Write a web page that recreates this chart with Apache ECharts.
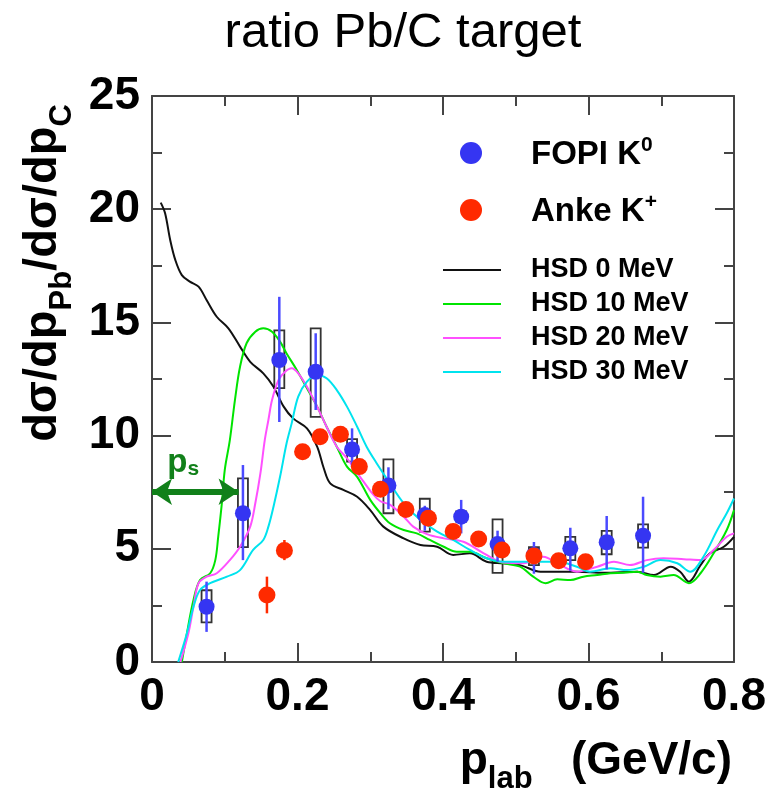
<!DOCTYPE html>
<html><head><meta charset="utf-8">
<script src="https://cdn.jsdelivr.net/npm/echarts@6/dist/echarts.min.js"></script>
<style>html,body{margin:0;padding:0;background:#fff}#c{width:769px;height:796px}</style>
</head><body><div id="c"></div>
<script>
// ---- data ----
const fopiX     = [0.075, 0.125, 0.175, 0.225, 0.275, 0.325, 0.375, 0.425, 0.475, 0.525, 0.575, 0.625, 0.675];
const fopiY     = [2.44, 6.57, 13.34, 12.82, 9.39, 7.80, 6.49, 6.42, 5.21, 4.73, 5.02, 5.29, 5.58];
const fopiErrLo = [1.33, 4.50, 10.60, 11.13, 8.63, 6.75, 5.80, 5.68, 4.43, 3.90, 4.03, 4.09, 3.94];
const fopiErrHi = [3.55, 8.70, 16.13, 14.52, 10.32, 8.60, 6.90, 7.16, 5.80, 5.30, 5.93, 6.45, 7.30];
const fopiBoxLo = [1.75, 5.07, 12.10, 10.83, 8.85, 6.57, 5.76, 6.20, 3.94, 4.28, 4.50, 4.76, 5.05];
const fopiBoxHi = [3.17, 8.11, 14.65, 14.74, 9.84, 8.95, 7.21, 6.65, 6.30, 5.07, 5.53, 5.79, 6.08];

const ankeX     = [0.158, 0.182, 0.207, 0.231, 0.259, 0.285, 0.314, 0.349, 0.380, 0.414, 0.449, 0.481, 0.525, 0.559, 0.596];
const ankeY     = [2.96, 4.92, 9.29, 9.95, 10.06, 8.63, 7.63, 6.74, 6.35, 5.76, 5.43, 4.95, 4.68, 4.47, 4.43];
const ankeErrLo = [2.15, 4.50, null, null, null, null, null, null, null, null, null, null, null, null, null];
const ankeErrHi = [3.77, 5.39, null, null, null, null, null, null, null, null, null, null, null, null, null];

const hsd0X = [0.012,0.018,0.025,0.032,0.041,0.052,0.064,0.075,0.089,0.105,0.121,0.135,0.153,0.167,0.181,0.194,0.213,0.227,0.236,0.245,0.263,0.282,0.300,0.318,0.346,0.369,0.392,0.414,0.437,0.460,0.483,0.506,0.534,0.557,0.584,0.621,0.667,0.690,0.713,0.726,0.738,0.754,0.767,0.786,0.800];
const hsd0Y = [20.29,19.82,18.64,17.76,17.09,16.80,16.58,15.99,15.25,14.74,13.93,13.26,12.75,12.16,11.28,10.76,10.32,9.51,8.57,7.89,7.60,7.30,6.71,5.98,5.46,5.17,5.09,4.73,4.80,4.43,4.36,4.28,3.99,3.99,3.99,3.94,3.99,3.84,4.21,3.99,3.55,4.28,4.80,5.09,5.53];

const hsd10X = [0.041,0.048,0.057,0.066,0.080,0.087,0.091,0.096,0.100,0.107,0.114,0.121,0.130,0.142,0.153,0.165,0.176,0.185,0.199,0.213,0.227,0.240,0.254,0.268,0.282,0.300,0.314,0.327,0.346,0.364,0.382,0.401,0.419,0.437,0.460,0.483,0.506,0.524,0.541,0.557,0.575,0.593,0.612,0.630,0.648,0.667,0.680,0.699,0.717,0.738,0.754,0.772,0.790,0.800];
const hsd10Y = [0.00,1.27,2.74,3.62,3.92,4.50,5.53,7.01,8.48,9.80,11.57,13.04,14.08,14.59,14.74,14.59,14.15,13.63,12.90,12.09,11.28,10.39,9.51,8.63,8.18,7.16,6.57,6.13,5.83,5.68,5.39,5.09,4.87,4.87,4.58,4.36,4.21,3.77,3.48,3.65,3.62,3.77,3.84,3.92,3.94,3.99,3.84,3.77,3.84,3.48,3.92,4.80,5.83,6.71];

const hsd20X = [0.039,0.050,0.057,0.064,0.075,0.089,0.107,0.121,0.135,0.142,0.149,0.155,0.160,0.165,0.174,0.183,0.192,0.201,0.213,0.227,0.240,0.254,0.268,0.286,0.304,0.314,0.327,0.346,0.359,0.378,0.401,0.428,0.456,0.483,0.511,0.538,0.557,0.584,0.612,0.635,0.657,0.680,0.703,0.731,0.754,0.772,0.790,0.800];
const hsd20Y = [0.00,1.27,2.44,3.48,3.77,3.92,4.50,5.09,5.98,7.01,8.33,9.80,10.69,11.57,12.46,12.82,12.97,12.75,12.16,11.28,10.39,9.51,9.00,8.18,7.40,7.10,6.95,6.42,5.98,5.65,5.46,5.31,4.80,4.39,4.36,4.65,4.36,3.99,4.21,4.43,4.28,4.50,4.58,4.54,4.50,4.95,5.53,5.68];

const hsd30X = [0.036,0.048,0.057,0.066,0.080,0.103,0.121,0.139,0.153,0.160,0.167,0.176,0.185,0.192,0.201,0.213,0.227,0.240,0.254,0.268,0.282,0.295,0.309,0.327,0.346,0.369,0.392,0.414,0.437,0.460,0.483,0.529,0.557,0.584,0.602,0.630,0.653,0.676,0.699,0.722,0.740,0.758,0.777,0.790,0.800];
const hsd30Y = [0.00,1.27,2.44,3.18,3.48,3.77,4.06,4.95,5.39,5.98,6.86,8.18,9.66,10.54,11.72,12.38,12.68,12.53,12.01,11.28,10.39,9.51,8.77,7.89,7.01,6.27,5.76,5.39,4.95,4.58,4.43,4.43,4.43,4.21,3.99,4.14,4.06,4.21,4.50,4.36,3.99,4.65,5.83,6.57,7.22];

const psArrow = {x0: 0, x1: 0.119, y: 7.52};
const xTickStep = 0.2, yTickStep = 5;

// ---- build ----
const zip = (xs, ys) => xs.map((x, i) => [x, ys[i]]);
const AX = '#444';
const FONT = '"Liberation Sans", Arial, Helvetica, sans-serif';
const LBL = 46;

function axisCommon(show, margin) {
  return {
    axisLine: {show: true, onZero: false, lineStyle: {color: AX, width: 2}},
    axisTick: {show: true, inside: true, length: 19, lineStyle: {color: AX, width: 2}},
    minorTick: {show: true, splitNumber: 2, length: 10, lineStyle: {color: AX, width: 2}},
    splitLine: {show: false},
    axisLabel: {show: show, fontSize: LBL, fontWeight: 'bold', color: '#000', fontFamily: FONT, margin: margin || 8}
  };
}

const boxSeries = {
  type: 'custom', name: 'boxes', z: 3, silent: true,
  data: fopiX.map((x, i) => [x, fopiBoxLo[i], fopiBoxHi[i]]),
  renderItem(params, api) {
    const x = api.value(0);
    const pHi = api.coord([x, api.value(2)]);
    const pLo = api.coord([x, api.value(1)]);
    return {type: 'rect', shape: {x: pHi[0] - 5, y: pHi[1], width: 10, height: pLo[1] - pHi[1]},
      style: {fill: 'none', stroke: '#333', lineWidth: 1.8}};
  }
};
function errSeries(xs, lo, hi, color, z) {
  return {
    type: 'custom', silent: true, z: z,
    data: xs.map((x, i) => [x, lo[i], hi[i]]).filter(d => d[1] != null),
    renderItem(params, api) {
      const x = api.value(0);
      const a = api.coord([x, api.value(1)]);
      const b = api.coord([x, api.value(2)]);
      return {type: 'line', shape: {x1: a[0], y1: a[1], x2: b[0], y2: b[1]},
        style: {stroke: color, lineWidth: 2.5}};
    }
  };
}
function curve(name, xs, ys, color) {
  return {type: 'line', name: name, data: zip(xs, ys), smooth: 0.35, symbol: 'none', z: 4,
    lineStyle: {color: color, width: 2}, itemStyle: {color: color}};
}

const GREEN = '#11801a';
const c0 = curve('HSD 0 MeV', hsd0X, hsd0Y, '#111111');
c0.markLine = {
  silent: true, symbol: ['arrow', 'arrow'], symbolSize: [20, 20],
  lineStyle: {color: GREEN, width: 6, type: 'solid'},
  label: {show: true, position: 'insideMiddleTop', distance: 12, offset: [-12, 0],
    formatter: '{p|p}{s|s}',
    rich: {p: {fontSize: 33, fontWeight: 'bold', color: GREEN, fontFamily: FONT, lineHeight: 36, verticalAlign: 'bottom'},
           s: {fontSize: 21, fontWeight: 'bold', color: GREEN, fontFamily: FONT, lineHeight: 16, verticalAlign: 'bottom'}}},
  data: [[{coord: [psArrow.x0, psArrow.y]}, {coord: [psArrow.x1, psArrow.y]}]]
};

const option = {
  backgroundColor: '#fff',
  animation: false,
  title: {text: 'ratio Pb/C target', left: 398, top: 4, textAlign: 'center',
    textStyle: {fontSize: 49, fontWeight: 'normal', color: '#000', fontFamily: FONT}},
  grid: {left: 152, right: 35, top: 96, bottom: 134},
  xAxis: [
    Object.assign({type: 'value', min: 0, max: 0.8, interval: xTickStep, position: 'bottom',
      name: '{a|p}{b|lab}{a|   (GeV/c)}', nameLocation: 'end', nameGap: -2,
      nameTextStyle: {align: 'right', verticalAlign: 'top', padding: [72, 0, 0, 0],
        rich: {a: {fontSize: LBL, fontWeight: 'bold', color: '#000', fontFamily: FONT, lineHeight: 50, verticalAlign: 'bottom'},
               b: {fontSize: 31, fontWeight: 'bold', color: '#000', fontFamily: FONT, lineHeight: 30, verticalAlign: 'bottom', padding: [0, 0, -11, 0]}}}
    }, axisCommon(true, 12)),
    Object.assign({type: 'value', min: 0, max: 0.8, interval: xTickStep, position: 'top'}, axisCommon(false))
  ],
  yAxis: [
    Object.assign({type: 'value', min: 0, max: 25, interval: yTickStep, position: 'left',
      name: '{a|dσ/dp}{b|Pb}{a|/dσ/dp}{b|C}', nameLocation: 'middle', nameGap: 84,
      nameTextStyle: {padding: [0, 0, 0, 212],
        rich: {a: {fontSize: 47, fontWeight: 'bold', color: '#000', fontFamily: FONT, lineHeight: 52, verticalAlign: 'bottom'},
               b: {fontSize: 31, fontWeight: 'bold', color: '#000', fontFamily: FONT, lineHeight: 30, verticalAlign: 'bottom', padding: [0, 0, -11, 0]}}}
    }, axisCommon(true, 12)),
    Object.assign({type: 'value', min: 0, max: 25, interval: yTickStep, position: 'right'}, axisCommon(false))
  ],
  legend: [
    {data: [{name: 'FOPI K0', icon: 'circle'}, {name: 'Anke K+', icon: 'circle'}],
     orient: 'vertical', left: 455, top: 130, itemWidth: 22, itemHeight: 22, itemGap: 21,
     selectedMode: false,
     formatter: n => n === 'FOPI K0' ? '{a|FOPI K}{s|0}' : '{a|Anke K}{s|+}',
     textStyle: {padding: [0, 0, 0, 44],
       rich: {a: {fontSize: 33, fontWeight: 'bold', color: '#000', fontFamily: FONT, lineHeight: 36, verticalAlign: 'bottom'},
              s: {fontSize: 21, fontWeight: 'bold', color: '#000', fontFamily: FONT, lineHeight: 14, verticalAlign: 'top'}}}},
    {data: ['HSD 0 MeV', 'HSD 10 MeV', 'HSD 20 MeV', 'HSD 30 MeV'].map(n => ({name: n, icon: 'rect'})),
     orient: 'vertical', left: 438, top: 250, itemWidth: 58, itemHeight: 2, itemGap: 4,
     selectedMode: false,
     textStyle: {fontSize: 27, fontWeight: 'bold', color: '#000', fontFamily: FONT, lineHeight: 30, padding: [0, 0, 0, 25]}}
  ],
  series: [
    c0,
    curve('HSD 10 MeV', hsd10X, hsd10Y, '#00e400'),
    curve('HSD 20 MeV', hsd20X, hsd20Y, '#ff50ff'),
    curve('HSD 30 MeV', hsd30X, hsd30Y, '#00e3ee'),
    boxSeries,
    errSeries(fopiX, fopiErrLo, fopiErrHi, '#4a4aff', 5),
    {type: 'scatter', name: 'FOPI K0', data: zip(fopiX, fopiY), symbol: 'circle', symbolSize: 16, z: 6,
     itemStyle: {color: '#3535f2', opacity: 1}},
    errSeries(ankeX, ankeErrLo, ankeErrHi, '#ff2a00', 7),
    {type: 'scatter', name: 'Anke K+', data: zip(ankeX, ankeY), symbol: 'circle', symbolSize: 17, z: 8,
     itemStyle: {color: '#ff2a00', opacity: 1}}
  ]
};
const chart = echarts.init(document.getElementById('c'), null, {renderer: 'canvas'});
chart.setOption(option);
</script></body></html>
